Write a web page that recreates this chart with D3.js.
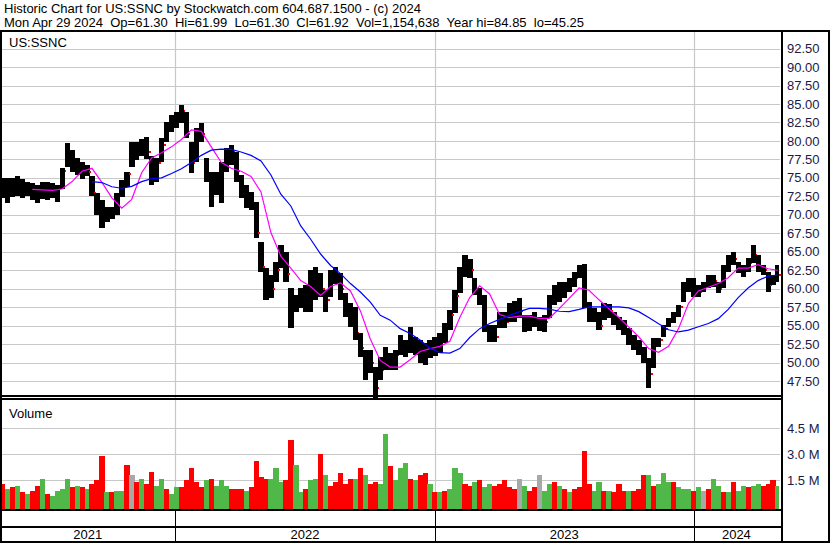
<!DOCTYPE html>
<html><head><meta charset="utf-8">
<script src="https://cdn.jsdelivr.net/npm/d3@7"></script>
<style>
body{margin:0;background:#fff}
svg{display:block}
text{font-family:"Liberation Sans",Arial,sans-serif;white-space:pre}
</style>
</head><body>
<svg id="c" width="830" height="543"></svg>
<script>
// ---------------- DATA (weekly) ----------------
const startDate = new Date(2021, 3, 29);
const endDate = new Date(2024, 3, 30);

const weekHigh = [
75.0,75.0,75.0,75.2,74.8,74.5,74.3,74.0,74.4,74.5,
74.3,74.0,76.3,79.7,78.8,77.7,77.2,76.8,75.2,73.0,
72.0,71.1,71.0,73.0,74.7,75.8,79.8,79.8,80.2,80.6,
78.0,77.7,80.4,82.6,83.5,83.9,84.85,83.9,79.9,81.8,
82.4,77.7,75.8,75.8,77.2,79.0,79.5,78.5,75.4,74.0,
73.1,71.7,66.3,62.8,61.9,63.6,65.9,65.0,60.1,59.2,
60.1,60.5,62.5,63.0,62.1,59.8,62.5,62.9,62.1,59.4,
58.1,57.5,54.0,51.7,51.7,49.4,50.8,52.1,51.3,51.7,
53.7,53.1,54.8,53.5,53.1,52.6,53.1,53.5,
54.0,55.4,57.1,59.8,62.9,64.6,64.0,61.4,60.1,
59.2,55.1,55.1,56.9,56.9,58.1,58.4,58.7,56.4,56.4,
56.9,56.2,56.4,59.2,60.5,60.9,60.9,61.4,62.3,63.2,
63.3,58.2,57.4,56.9,58.1,57.9,56.9,56.2,55.8,54.7,
53.7,53.1,52.1,50.6,53.3,53.3,55.1,56.0,56.9,57.8,
60.9,61.4,61.4,60.5,60.9,61.9,61.9,60.9,63.2,64.6,
65.0,63.6,63.2,64.2,65.9,64.6,63.2,62.3,61.9,63.2];

const weekLow = [
72.3,71.6,72.4,72.5,72.3,72.6,72.0,71.6,72.2,72.0,
72.3,71.8,73.5,76.5,75.8,75.4,74.8,75.2,72.5,70.0,
68.2,69.0,69.5,70.0,72.4,73.8,76.5,77.4,78.0,77.5,
74.0,74.4,77.2,79.9,81.2,81.8,82.4,80.4,75.7,77.2,
79.9,74.4,71.0,72.7,71.6,75.8,76.7,74.4,72.3,70.9,
70.6,66.9,62.3,58.5,58.7,60.9,62.8,60.9,54.7,56.9,
57.4,56.9,56.9,58.5,58.9,56.9,58.9,60.7,58.5,56.2,
54.8,53.1,50.8,47.6,48.6,45.25,47.6,49.0,49.0,49.0,
51.0,50.8,51.3,51.0,50.0,49.7,50.6,50.9,
51.3,52.6,54.4,56.7,59.4,61.6,61.4,59.2,57.8,
54.1,52.8,52.8,54.7,54.7,55.5,55.5,56.0,54.1,54.3,
54.8,54.3,54.1,56.0,57.8,58.2,58.7,59.5,60.2,61.4,
57.4,55.5,55.5,54.4,55.8,56.1,55.1,54.4,53.7,52.4,
51.7,51.0,50.0,46.6,49.3,52.1,53.5,54.8,55.4,56.2,
58.2,59.5,58.9,58.9,59.5,60.1,60.2,59.4,60.1,62.3,
63.2,62.1,61.6,62.3,63.5,62.3,61.9,59.5,60.5,60.9];

const weekClose = [
73.5,73.0,74.0,73.8,73.2,73.5,73.0,72.8,73.4,73.0,
73.6,73.9,76.0,78.0,77.0,76.5,76.5,75.8,73.0,70.5,
69.5,70.0,70.3,72.5,74.2,75.5,78.5,79.0,79.5,78.5,
75.5,77.0,79.5,81.5,82.5,83.0,84.0,81.0,77.0,81.0,
81.0,75.5,73.5,74.0,76.0,78.0,78.5,76.0,73.5,72.0,
71.5,67.5,63.0,60.0,60.0,62.5,64.0,62.0,57.0,58.0,
59.5,58.5,61.0,62.0,60.0,58.5,61.5,62.0,60.0,57.0,
57.0,54.0,52.0,49.0,50.0,46.5,49.0,50.0,50.0,51.0,
52.5,52.0,53.0,52.5,51.0,51.5,52.0,53.0,
53.5,54.5,56.5,59.0,62.0,63.5,62.5,60.0,59.0,
55.0,54.0,53.5,56.0,55.5,57.5,56.5,57.0,55.0,55.5,
56.0,55.0,55.5,58.5,59.5,59.0,60.0,60.5,61.5,62.5,
58.0,57.0,56.5,55.0,57.5,57.0,55.5,55.0,54.5,53.0,
52.5,52.0,50.5,48.5,52.5,53.0,54.5,55.5,56.5,57.5,
60.5,60.5,60.0,59.5,60.5,61.5,61.0,60.0,62.5,63.5,
64.0,62.5,62.5,63.5,64.5,63.0,62.5,60.5,61.0,61.92];

// weekly volume, millions of shares
const weekVolume = [
1.3,1.0,1.1,1.2,0.8,0.7,0.9,1.2,1.6,0.7,
0.6,0.9,1.0,1.6,1.1,1.2,1.1,1.0,1.3,1.5,
2.9,0.85,0.85,0.9,0.9,2.4,1.8,1.4,1.6,1.3,
2.0,1.2,1.6,1.0,0.7,1.1,1.1,1.5,2.2,1.4,
1.1,1.5,1.6,1.2,1.5,1.2,1.0,1.0,1.0,0.9,
1.1,2.6,1.7,1.6,1.6,2.2,1.4,1.5,3.8,2.4,
0.8,1.0,1.5,1.6,3.0,1.8,1.2,1.4,1.9,1.3,
1.6,1.6,2.2,1.8,1.3,1.4,1.3,4.2,2.3,1.5,
2.2,2.5,1.6,1.5,1.8,1.9,1.3,0.8,0.8,0.9,
1.0,2.2,1.9,1.3,1.2,1.4,1.5,1.1,1.3,1.2,
1.3,1.5,1.1,1.0,1.6,1.2,0.9,1.1,1.8,0.9,
1.3,1.4,1.2,1.0,0.8,1.0,1.1,3.2,1.3,0.9,
1.4,0.9,0.9,0.8,1.3,0.9,0.9,0.9,1.0,1.8,
1.8,1.2,1.3,1.9,1.4,1.4,1.1,1.0,1.0,0.9,
1.1,0.9,1.0,1.6,1.2,0.8,0.8,1.4,0.9,1.2,
1.1,1.2,1.3,1.2,1.3,1.5,1.2];

// r = down, g = up, n = unchanged
const weekVolDir = ("rgrgrgrrgr"+"ggggrgrgrr"+"rgrggrnrgr"+"rggrggrrrr"+"rgrgggrrrg"+
  "rrrrgggrrg"+"grggrgrrrr"+"rgrgrrggrg"+"ggrgrrgrgr"+"gggrrgrggr"+
  "rrrrngrrng"+"grgrgrrrrg"+"grgrrrgrrr"+"grgggrgggr"+"gnrggrgrgg"+"rggrrrg").split("");

// moving averages, read every second week
const maFast = [null,null,null,73.45,73.37,73.3,73.5,74.5,75.9,76.3,
74.4,72.3,70.9,72.1,75.7,77.7,78.4,79.2,80.2,81.5,
81.3,79.2,77.1,76.3,75.9,75.2,73.1,67.6,64.4,62.8,
61.1,60.3,59.1,60.3,60.8,59.7,57.0,53.2,50.3,49.4,
49.4,50.4,51.5,51.9,52.2,52.9,56.1,58.8,60.4,59.3,
56.5,56.1,56.3,56.3,56.0,56.0,57.3,58.7,60.1,59.8,
58.5,57.3,56.1,54.8,53.5,51.9,51.4,52.2,54.6,58.0,
59.7,60.2,60.7,61.5,62.8,62.8,63.25,62.7,62.5];

const maSlow = [null,null,null,null,null,null,null,null,null,74.5,
74.37,73.8,73.6,73.85,74.5,74.9,75.0,75.6,76.25,77.1,
78.05,78.75,78.9,78.85,78.5,78.05,77.3,75.4,72.8,71.2,
68.5,66.7,64.7,63.15,62.05,60.7,59.55,58.2,56.4,55.75,
54.6,53.95,53.05,51.95,51.35,51.3,51.9,53.4,54.6,55.3,
55.85,56.4,56.9,57.35,57.35,57.25,56.95,56.9,57.2,57.55,
57.55,57.55,57.55,57.4,56.9,56.1,55.25,54.45,54.15,54.4,
54.85,55.3,55.95,57.2,58.8,60.1,61.1,61.7,61.86];

const priceTicks = [47.5,50,52.5,55,57.5,60,62.5,65,67.5,70,72.5,75,77.5,80,82.5,85,87.5,90,92.5];
const volumeTicks = [1.5,3.0,4.5];
const yearTicks = [new Date(2022,0,1), new Date(2023,0,1), new Date(2024,0,1)];
const yearLabels = ["2021","2022","2023","2024"];
const headerLines = [
  "Historic Chart for US:SSNC by Stockwatch.com 604.687.1500 - (c) 2024",
  "Mon Apr 29 2024  Op=61.30  Hi=61.99  Lo=61.30  Cl=61.92  Vol=1,154,638  Year hi=84.85  lo=45.25"
];
const symbol = "US:SSNC";

// ---------------- CHART ----------------
const svg = d3.select("#c");
const W = 830, H = 543;
const plotL = 2, plotR = 780;
const priceTop = 31.5, priceBot = 395;
const volTop = 399.5, volBot = 509;
const grid = "#c8c8c8";

const weekDates = d3.range(weekHigh.length).map(i => d3.timeDay.offset(startDate, 7 * i));
const x = d3.scaleTime().domain([startDate, endDate]).range([0, 779]);
const y = d3.scaleLinear().domain([47.5, 92.5]).range([381.1, 48.6]);
const vy = d3.scaleLinear().domain([0, 4.5]).range([506.3, 428.3]);

svg.append("rect").attr("width", W).attr("height", H).attr("fill", "#fff");

// header
svg.selectAll("text.hdr").data(headerLines).join("text")
  .attr("class", "hdr").attr("x", 4).attr("y", (d, i) => 13 + i * 14)
  .attr("font-size", 13).attr("fill", "#000").text(d => d);

// horizontal grid (price)
svg.append("g").selectAll("line").data(priceTicks).join("line")
  .attr("x1", plotL).attr("x2", plotR)
  .attr("y1", d => Math.round(y(d)) + 0.5).attr("y2", d => Math.round(y(d)) + 0.5)
  .attr("stroke", grid).attr("stroke-width", 1);
// horizontal grid (volume)
svg.append("g").selectAll("line").data(volumeTicks).join("line")
  .attr("x1", plotL).attr("x2", plotR)
  .attr("y1", d => Math.round(vy(d)) + 0.5).attr("y2", d => Math.round(vy(d)) + 0.5)
  .attr("stroke", grid).attr("stroke-width", 1);
// vertical year grid
svg.append("g").selectAll("line").data(yearTicks).join("line")
  .attr("x1", d => Math.round(x(d)) + 0.5).attr("x2", d => Math.round(x(d)) + 0.5)
  .attr("y1", priceTop).attr("y2", volBot)
  .attr("stroke", grid).attr("stroke-width", 1.2);

// volume bars
const volColor = {r: "#ff0000", g: "#4fb848", n: "#a8a8a8"};
svg.append("g").attr("shape-rendering", "crispEdges")
  .selectAll("rect").data(weekVolume).join("rect")
  .attr("x", (d, i) => x(weekDates[i]))
  .attr("width", (d, i) => Math.min(x(d3.timeDay.offset(weekDates[i], 7)), 779) - x(weekDates[i]) + 0.3)
  .attr("y", d => vy(d))
  .attr("height", d => volBot - vy(d))
  .attr("fill", (d, i) => volColor[weekVolDir[i]]);

// price bars (range) + red close tick
const pg = svg.append("g").attr("shape-rendering", "crispEdges");
weekHigh.forEach((hi, i) => {
  const x0 = x(weekDates[i]);
  const x1 = Math.min(x(d3.timeDay.offset(weekDates[i], 7)), 779);
  pg.append("rect").attr("x", x0).attr("width", x1 - x0 + 0.3)
    .attr("y", y(hi)).attr("height", y(weekLow[i]) - y(hi)).attr("fill", "#000");
  pg.append("rect").attr("x", x1).attr("width", 1.5)
    .attr("y", y(weekClose[i]) - 1).attr("height", 2).attr("fill", "#ff0000");
});

// moving averages
const maDate = k => d3.timeHour.offset(weekDates[2 * k], 84);
const line = d3.line().defined(d => d != null).x((d, k) => x(maDate(k))).y(d => y(d));
svg.append("path").datum(maFast).attr("d", line).attr("fill", "none")
  .attr("stroke", "#ff00ff").attr("stroke-width", 1.2);
svg.append("path").datum(maSlow).attr("d", line).attr("fill", "none")
  .attr("stroke", "#0000ff").attr("stroke-width", 1.2);

// labels inside panels
svg.append("text").attr("x", 9).attr("y", 46.5).attr("font-size", 13).text(symbol);
svg.append("text").attr("x", 9).attr("y", 418).attr("font-size", 13).text("Volume");

// right axis labels
svg.append("g").selectAll("text").data(priceTicks).join("text")
  .attr("x", 787).attr("y", d => y(d)).attr("dy", "0.35em")
  .attr("font-size", 13).attr("fill", "#1a1a48").text(d => d.toFixed(2));
svg.append("g").selectAll("text").data(volumeTicks).join("text")
  .attr("x", 787).attr("y", d => vy(d)).attr("dy", "0.35em")
  .attr("font-size", 13).attr("fill", "#1a1a48").text(d => d.toFixed(1) + " M");

// frame lines
const frame = svg.append("g").attr("stroke", "#000").attr("shape-rendering", "crispEdges");
frame.append("line").attr("x1", 0).attr("x2", W).attr("y1", 30.5).attr("y2", 30.5).attr("stroke-width", 2);
frame.append("line").attr("x1", 1).attr("x2", 1).attr("y1", 30).attr("y2", H).attr("stroke-width", 2);
frame.append("line").attr("x1", 781.5).attr("x2", 781.5).attr("y1", 30).attr("y2", H).attr("stroke-width", 2);
frame.append("line").attr("x1", 828.5).attr("x2", 828.5).attr("y1", 30).attr("y2", H).attr("stroke-width", 2);
frame.append("line").attr("x1", 0).attr("x2", 781).attr("y1", 396).attr("y2", 396).attr("stroke-width", 1.5);
frame.append("line").attr("x1", 0).attr("x2", 781).attr("y1", 398.8).attr("y2", 398.8).attr("stroke-width", 1.5);
frame.append("line").attr("x1", 0).attr("x2", 781).attr("y1", 510).attr("y2", 510).attr("stroke-width", 2);
frame.append("line").attr("x1", 0).attr("x2", 781).attr("y1", 527).attr("y2", 527).attr("stroke-width", 2);
frame.append("line").attr("x1", 0).attr("x2", W).attr("y1", 541.5).attr("y2", 541.5).attr("stroke-width", 2);
frame.selectAll("line.yr").data(yearTicks).join("line").attr("class", "yr")
  .attr("x1", d => Math.round(x(d)) + 0.5).attr("x2", d => Math.round(x(d)) + 0.5)
  .attr("y1", 510).attr("y2", 542).attr("stroke-width", 1.5);

// year labels centred in their spans
const bounds = [x.range()[0]].concat(yearTicks.map(x)).concat([x.range()[1]]);
svg.append("g").selectAll("text").data(yearLabels).join("text")
  .attr("x", (d, i) => (bounds[i] + bounds[i + 1]) / 2).attr("y", 539)
  .attr("text-anchor", "middle").attr("font-size", 13).attr("fill", "#000").text(d => d);
</script>
</body></html>
